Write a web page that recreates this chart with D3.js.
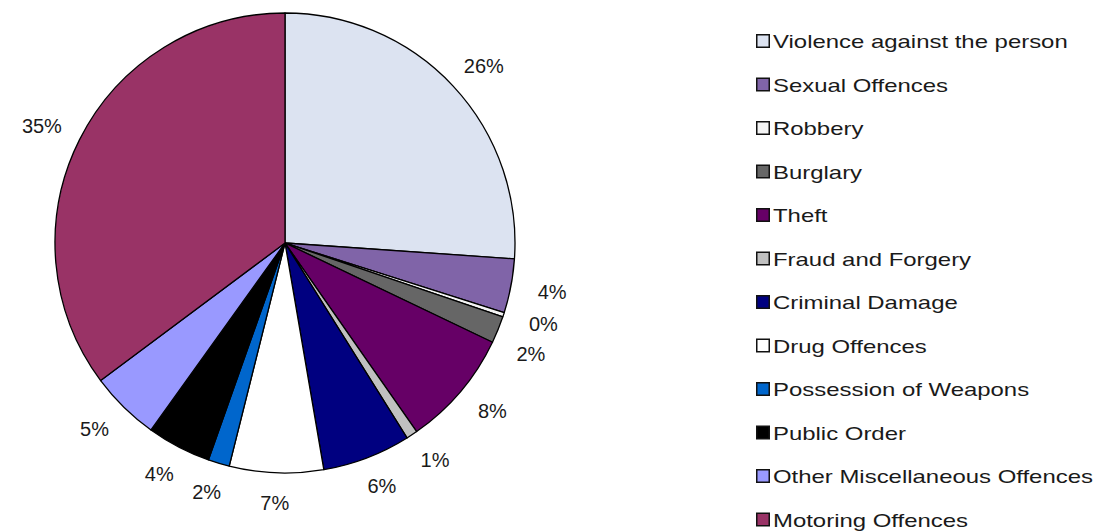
<!DOCTYPE html>
<html>
<head>
<meta charset="utf-8">
<script src="https://cdn.jsdelivr.net/npm/d3@7"></script>
<style>
  body { margin: 0; background: #fff; }
  svg { display: block; font-family: "Liberation Sans", Arial, sans-serif; }
</style>
</head>
<body>
<svg width="1112" height="532"></svg>
<script>
// offence categories, clockwise from 12 o'clock
var categories = ["Violence against the person", "Sexual Offences", "Robbery", "Burglary",
    "Theft", "Fraud and Forgery", "Criminal Damage", "Drug Offences",
    "Possession of Weapons", "Public Order", "Other Miscellaneous Offences", "Motoring Offences"]
// share of total (%)
var shares = [26.1, 3.8, 0.3, 1.9, 8.2, 0.8, 6.2, 6.6, 1.5, 4.5, 4.9, 35.2]
// labels as printed on the chart
var pctLabels = ["26%", "4%", "0%", "2%", "8%", "1%", "6%", "7%", "2%", "4%", "5%", "35%"]
var colours = ["#dce3f1", "#8064a8", "#f4f4f4", "#666666", "#660066", "#c0c0c0",
    "#000080", "#ffffff", "#0066cc", "#000000", "#9999ff", "#993366"]

var centre = {x: 285, y: 243}
var radius = 230
// labels sit on a slightly flattened ring, like excel's outside-end labels
var ring = {rx: 272, ry: 260}

var svg = d3.select("svg")

var data = categories.map(function(c, i){
    return {name: c, value: shares[i], label: pctLabels[i]}
})

var cScale = d3.scaleOrdinal().domain(categories).range(colours)

var pie = d3.pie().sort(null).value(function(d){ return d.value })
var arcs = pie(data)

var arcGen = d3.arc().innerRadius(0).outerRadius(radius)

var g = svg.append("g")
    .attr("id", "pie")
    .attr("transform", "translate(" + centre.x + "," + centre.y + ")")

g.selectAll("path")
    .data(arcs)
    .enter()
    .append("path")
    .attr("d", arcGen)
    .attr("fill", function(a){ return cScale(a.data.name) })
    .attr("stroke", "#000")
    .attr("stroke-width", 1.3)
    .attr("stroke-linejoin", "round")

// label positions: mid angle on the ring, then push apart any that collide
var pos = arcs.map(function(a){
    var ang = (a.startAngle + a.endAngle) / 2
    return {x: Math.sin(ang) * ring.rx, y: -Math.cos(ang) * ring.ry, right: ang < Math.PI}
})
for (var i = 1; i < pos.length; i++) {
    var p = pos[i], q = pos[i - 1]
    if (p.right && q.right && Math.abs(p.x - q.x) < 40 && p.y - q.y < 30) {
        p.y = q.y + 30
        var t = Math.min(1, Math.abs(p.y) / ring.ry)
        p.x = ring.rx * Math.sqrt(1 - t * t)
    }
}

g.selectAll("text")
    .data(arcs)
    .enter()
    .append("text")
    .attr("x", function(a, i){ return pos[i].x })
    .attr("y", function(a, i){ return pos[i].y })
    .attr("text-anchor", "middle")
    .attr("dominant-baseline", "central")
    .attr("font-size", 20)
    .attr("fill", "#1a1a1a")
    .text(function(a){ return a.data.label })

// legend
var legend = svg.append("g")
    .attr("id", "legend")
    .attr("transform", "translate(756,41)")

var rows = legend.selectAll("g")
    .data(data)
    .enter()
    .append("g")
    .attr("transform", function(d, i){ return "translate(0," + (i * 43.5) + ")" })

rows.append("rect")
    .attr("x", 0.75)
    .attr("y", -6.25)
    .attr("width", 12.5)
    .attr("height", 12.5)
    .attr("fill", function(d){ return cScale(d.name) })
    .attr("stroke", "#111")
    .attr("stroke-width", 1.5)

rows.append("text")
    .attr("transform", "translate(17,1) scale(1.33,1)")
    .attr("dominant-baseline", "central")
    .attr("font-size", 18)
    .attr("fill", "#1a1a1a")
    .text(function(d){ return d.name })
</script>
</body>
</html>
